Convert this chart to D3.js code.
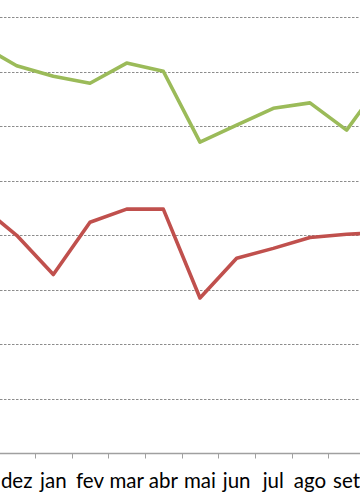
<!DOCTYPE html>
<html>
<head>
<meta charset="utf-8">
<script src="https://cdn.jsdelivr.net/npm/d3@7"></script>
<style>
  body { margin: 0; background: #fff; }
  svg { display: block; }
</style>
</head>
<body>
<div id="chart"></div>
<script>
// months (first and last sit outside the visible crop)
var months = ["nov", "dez", "jan", "fev", "mar", "abr", "mai", "jun", "jul", "ago", "set", "out"];
var greenVals = [75.0, 71.1, 69.2, 67.9, 71.6, 70.1, 57.1, 60.2, 63.3, 64.3, 59.3, 68.5];
var redVals = [45.5, 40.0, 32.8, 42.4, 44.8, 44.8, 28.5, 35.8, 37.6, 39.6, 40.2, 40.5];
var gridTicks = [10, 20, 30, 40, 50, 60, 70, 80];

//Config
var width = 360, height = 504;
var greenColor = "#9BBB59";
var redColor = "#C0504D";
var bandW = 36.66;
var x0 = 35 - 2 * bandW;

var svg = d3.select("#chart").append("svg")
  .attr("width", width)
  .attr("height", height);

var x = d3.scaleBand()
  .domain(months)
  .range([x0, x0 + months.length * bandW])
  .paddingInner(0).paddingOuter(0);

var y = d3.scaleLinear()
  .domain([0, 80])
  .range([453.3, 17.3]);

// dashed gridlines
svg.append("g")
  .selectAll("line")
  .data(gridTicks)
  .enter()
  .append("line")
  .attr("x1", 0)
  .attr("x2", width)
  .attr("y1", function(d) { return Math.round(y(d)) + 0.5; })
  .attr("y2", function(d) { return Math.round(y(d)) + 0.5; })
  .attr("stroke", "#8c8c8c")
  .attr("stroke-width", 1)
  .attr("stroke-dasharray", "2.5,1.5");

// x axis with ticks between categories
var axisY = Math.round(y(0)) + 0.5;
svg.append("line")
  .attr("x1", 0).attr("x2", width)
  .attr("y1", axisY).attr("y2", axisY)
  .attr("stroke", "#a0a0a0")
  .attr("stroke-width", 1.3);

svg.append("g")
  .selectAll("line")
  .data(months.slice(1))
  .enter()
  .append("line")
  .attr("x1", function(d) { return Math.round(x(d)) + 0.5; })
  .attr("x2", function(d) { return Math.round(x(d)) + 0.5; })
  .attr("y1", axisY)
  .attr("y2", axisY + 5)
  .attr("stroke", "#a0a0a0")
  .attr("stroke-width", 1);

// only the labels that fall inside the crop
svg.append("g")
  .selectAll("text")
  .data(months.slice(1, -1))
  .enter()
  .append("text")
  .attr("x", function(d) { return x(d) + bandW / 2; })
  .attr("y", 488)
  .attr("text-anchor", "middle")
  .attr("font-family", "Lato, 'Open Sans', sans-serif")
  .attr("font-size", "20.5px")
  .attr("fill", "#000")
  .text(function(d) { return d; });

// series
var line = d3.line()
  .x(function(d, i) { return x(months[i]) + bandW / 2; })
  .y(function(d) { return y(d); });

svg.append("path")
  .datum(greenVals)
  .attr("d", line)
  .attr("fill", "none")
  .attr("stroke", greenColor)
  .attr("stroke-width", 3.6)
  .attr("stroke-linejoin", "round");

svg.append("path")
  .datum(redVals)
  .attr("d", line)
  .attr("fill", "none")
  .attr("stroke", redColor)
  .attr("stroke-width", 3.6)
  .attr("stroke-linejoin", "round");
</script>
</body>
</html>
